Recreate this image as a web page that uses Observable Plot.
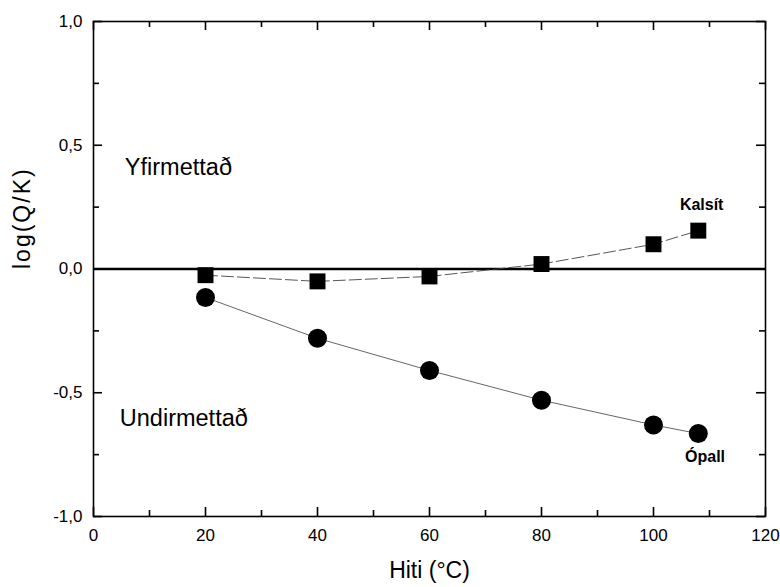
<!DOCTYPE html>
<html><head><meta charset="utf-8">
<script src="https://cdn.jsdelivr.net/npm/d3@7"></script>
<script src="https://cdn.jsdelivr.net/npm/@observablehq/plot@0.6"></script>
<style>body{margin:0;background:#fff;font-family:"Liberation Sans",Arial,sans-serif}</style>
</head><body><div id="chart"></div>
<script>
const temps = [20, 40, 60, 80, 100, 108];
const kalsit = [-0.025, -0.05, -0.03, 0.02, 0.10, 0.155];
const opall = [-0.115, -0.28, -0.41, -0.53, -0.63, -0.665];
const xMajor = [0, 20, 40, 60, 80, 100, 120];
const xMinor = [10, 30, 50, 70, 90, 110];
const yMajor = [-1, -0.5, 0, 0.5, 1];
const yMinor = [-0.75, -0.25, 0.25, 0.75];
const xTitle = "Hiti (°C)";
const yTitle = "log(Q/K)";
const zoneLabels = ["Yfirmettað", "Undirmettað"];
const seriesLabels = ["Kalsít", "Ópall"];

const kData = temps.map((t, i) => ({t, v: kalsit[i]}));
const oData = temps.map((t, i) => ({t, v: opall[i]}));
const fmt = d => d.toFixed(1).replace(".", ",");

const W = 780, H = 587, mL = 93, mR = 15, mT = 21, mB = 71;
const fw = W - mL - mR, fh = H - mT - mB;
const tickStyle = {stroke: "#000", strokeWidth: 1.6};

const chart = Plot.plot({
  width: W, height: H,
  marginLeft: mL, marginRight: mR, marginTop: mT, marginBottom: mB,
  style: {fontFamily: "Liberation Sans, Arial, sans-serif", background: "#fff", color: "#000"},
  x: {domain: [0, 120], axis: null},
  y: {domain: [-1, 1], axis: null},
  marks: [
    Plot.frame({stroke: "#000", strokeWidth: 1.6}),
    // inward ticks on all four sides
    Plot.tickX(xMajor, {x: d => d, insetTop: fh - 9, ...tickStyle}),
    Plot.tickX(xMinor, {x: d => d, insetTop: fh - 6, ...tickStyle}),
    Plot.tickX(xMajor, {x: d => d, insetBottom: fh - 9, ...tickStyle}),
    Plot.tickX(xMinor, {x: d => d, insetBottom: fh - 6, ...tickStyle}),
    Plot.tickY(yMajor, {y: d => d, insetRight: fw - 9, ...tickStyle}),
    Plot.tickY(yMinor, {y: d => d, insetRight: fw - 6, ...tickStyle}),
    Plot.tickY(yMajor, {y: d => d, insetLeft: fw - 9, ...tickStyle}),
    Plot.tickY(yMinor, {y: d => d, insetLeft: fw - 6, ...tickStyle}),
    Plot.axisX(xMajor, {anchor: "bottom", tickSize: 0, tickPadding: 12, tickFormat: d => String(d), fontSize: 17, label: null}),
    Plot.axisY(yMajor, {anchor: "left", tickSize: 0, tickPadding: 11, tickFormat: fmt, fontSize: 17, label: null}),
    Plot.text([xTitle], {frameAnchor: "bottom", dy: 61, fontSize: 23, fill: "#000"}),
    Plot.text([yTitle], {frameAnchor: "left", dx: -71, rotate: -90, fontSize: 23, fill: "#000"}),
    Plot.ruleY([0], {stroke: "#000", strokeWidth: 2.5}),
    Plot.line(kData, {x: "t", y: "v", stroke: "#444", strokeWidth: 0.9, strokeDasharray: "12,4"}),
    Plot.line(oData, {x: "t", y: "v", stroke: "#555", strokeWidth: 0.9}),
    Plot.dot(kData, {x: "t", y: "v", symbol: "square", r: 9, fill: "#000", stroke: "none"}),
    Plot.dot(oData, {x: "t", y: "v", r: 9.5, fill: "#000", stroke: "none"}),
    Plot.text([zoneLabels[0]], {x: 5.6, y: 0.41, text: d => d, textAnchor: "start", fontSize: 23.5, fill: "#000"}),
    Plot.text([zoneLabels[1]], {x: 4.7, y: -0.605, text: d => d, textAnchor: "start", fontSize: 23.5, fill: "#000"}),
    Plot.text([seriesLabels[0]], {x: 108.6, y: 0.26, text: d => d, fontSize: 16, fontWeight: "bold", fill: "#000"}),
    Plot.text([seriesLabels[1]], {x: 109.2, y: -0.76, text: d => d, fontSize: 16, fontWeight: "bold", fill: "#000"})
  ]
});
document.getElementById("chart").appendChild(chart);
d3.select(chart).selectAll("text").filter(function() { return this.textContent === yTitle; }).style("letter-spacing", "2px");
</script></body></html>
